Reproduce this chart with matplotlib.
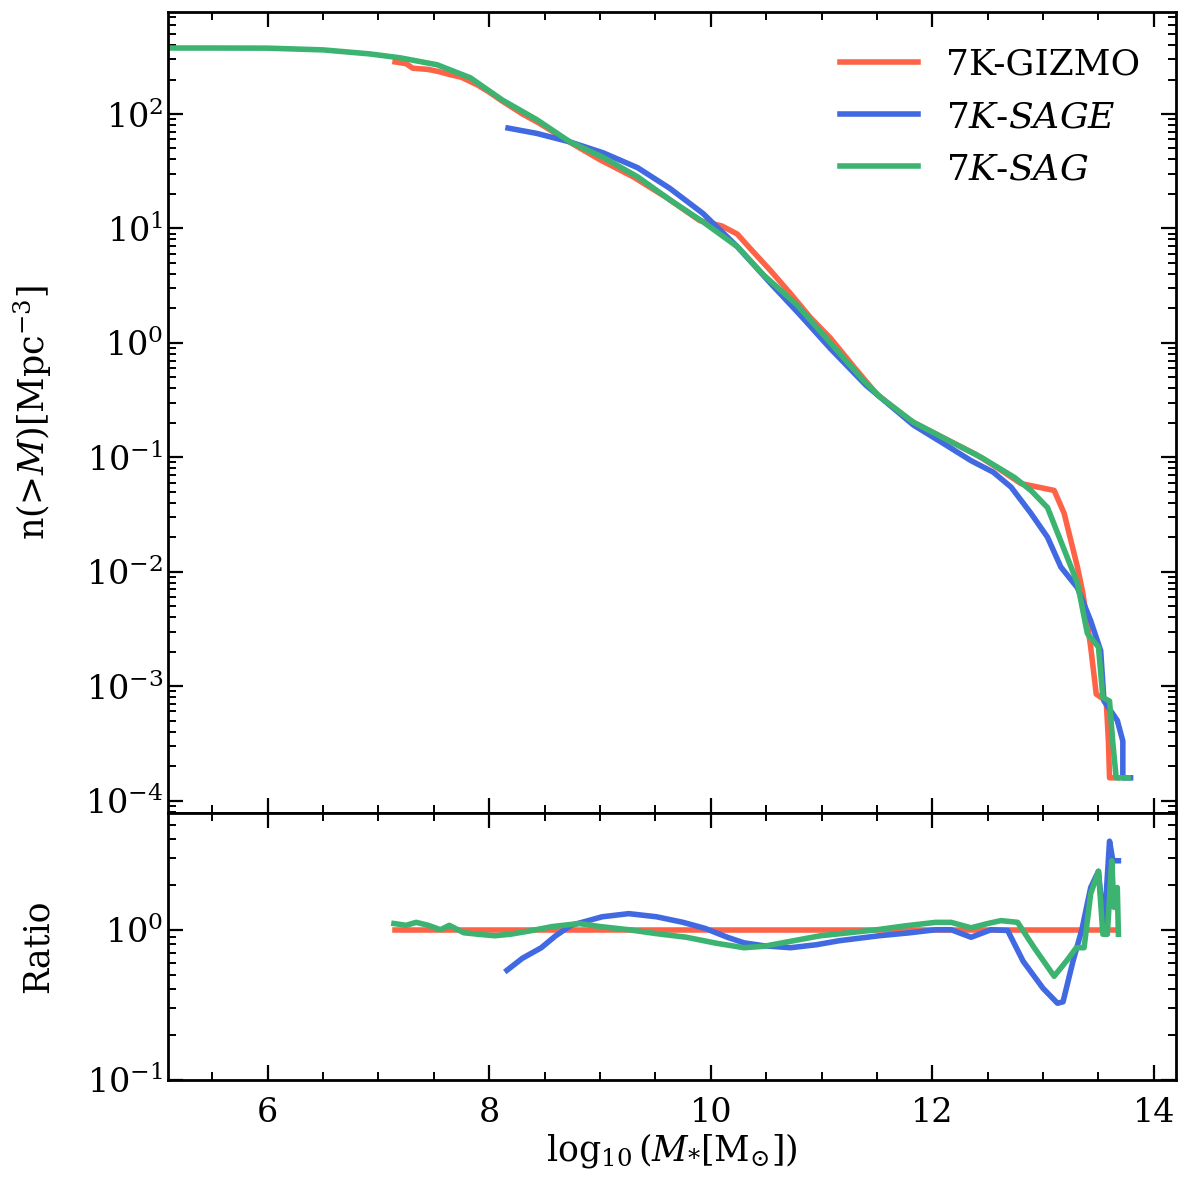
import numpy as np
import matplotlib
matplotlib.use("Agg")
import matplotlib.pyplot as plt
from matplotlib.ticker import MultipleLocator, LogLocator, NullFormatter

plt.rcParams['font.family'] = ['DejaVu Serif']
plt.rcParams['mathtext.fontset'] = 'dejavuserif'

# cumulative number density
x_gizmo = [7.15, 7.25, 7.31, 7.45, 7.55, 7.62, 7.75, 7.9, 8.0, 8.12, 8.3, 8.45, 8.6, 8.75,
           9.0, 9.3, 9.6, 9.9, 10.1, 10.24, 10.36, 10.54, 10.72, 10.9, 11.08, 11.3, 11.5,
           11.8, 12.1, 12.4, 12.6, 12.8, 13.1, 13.19, 13.31, 13.36, 13.43, 13.48, 13.57,
           13.59, 13.6, 13.67]
n_gizmo = [285, 275, 251, 245, 234, 224, 209, 178, 155, 129, 100, 83.2, 67.6, 55.0,
           39.8, 28.2, 18.6, 11.7, 10.5, 8.91, 6.61, 4.27, 2.69, 1.66, 1.10, 0.603, 0.355,
           0.209, 0.148, 0.105, 0.0794, 0.0589, 0.0513, 0.0324, 0.0110, 0.00646, 0.00219,
           0.000851, 0.000741, 0.000331, 0.000158, 0.000158]

x_sage = [8.17, 8.43, 8.73, 9.03, 9.34, 9.63, 9.93, 10.24, 10.54, 10.8, 11.08, 11.4, 11.83,
          12.1, 12.35, 12.55, 12.71, 12.89, 13.04, 13.16, 13.31, 13.43, 13.52, 13.55, 13.67,
          13.72, 13.72, 13.79]
n_sage = [75.3, 67.6, 56.9, 45.7, 33.9, 22.4, 13.5, 6.92, 3.31, 1.78, 0.891, 0.427, 0.191,
          0.132, 0.0933, 0.0741, 0.0550, 0.0324, 0.0200, 0.0110, 0.00724, 0.00372, 0.00204,
          0.000741, 0.000501, 0.000331, 0.000158, 0.000158]

x_sag = [5.1, 5.5, 6.0, 6.5, 6.92, 7.2, 7.53, 7.83, 8.12, 8.43, 8.73, 9.03, 9.34, 9.63, 9.93,
         10.24, 10.48, 10.78, 11.08, 11.38, 11.53, 11.83, 12.14, 12.44, 12.74, 12.89, 13.04,
         13.22, 13.31, 13.4, 13.5, 13.54, 13.6, 13.63, 13.66, 13.77]
n_sag = [377, 377, 376, 363, 335, 309, 269, 207, 132, 89.1, 56.9, 41.7, 28.2, 17.8, 11.4,
         6.92, 3.89, 2.14, 1.0, 0.468, 0.335, 0.202, 0.141, 0.100, 0.0668, 0.0513, 0.0363,
         0.0132, 0.00794, 0.00288, 0.00219, 0.000794, 0.000741, 0.000316, 0.000158, 0.000158]

# ratios to 7K-GIZMO
xr_gizmo = [7.15, 13.67]
r_gizmo = [1.0, 1.0]

xr_sage = [8.16, 8.3, 8.47, 8.6, 8.74, 9.02, 9.26, 9.51, 9.75, 9.95, 10.15, 10.3, 10.48, 10.72,
           10.95, 11.16, 11.52, 11.8, 12.03, 12.17, 12.35, 12.53, 12.68, 12.82, 13.0, 13.13,
           13.18, 13.27, 13.35, 13.43, 13.5, 13.55, 13.6, 13.63, 13.68]
r_sage = [0.537, 0.646, 0.759, 0.912, 1.07, 1.22, 1.28, 1.22, 1.12, 1.02, 0.891, 0.818, 0.782,
          0.759, 0.794, 0.845, 0.912, 0.955, 1.0, 1.0, 0.891, 1.0, 0.989, 0.617, 0.407, 0.324,
          0.331, 0.617, 1.0, 1.91, 2.45, 1.0, 3.89, 2.88, 2.88]

xr_sag = [7.14, 7.25, 7.34, 7.45, 7.56, 7.64, 7.77, 7.9, 8.05, 8.19, 8.35, 8.57, 8.81, 9.0,
          9.26, 9.5, 9.78, 10.05, 10.3, 10.48, 10.7, 10.99, 11.25, 11.5, 11.75, 12.03, 12.17,
          12.35, 12.5, 12.62, 12.77, 12.92, 13.1, 13.22, 13.3, 13.37, 13.43, 13.5, 13.54,
          13.58, 13.62, 13.64, 13.67, 13.68]
r_sag = [1.10, 1.07, 1.12, 1.07, 1.0, 1.07, 0.955, 0.933, 0.912, 0.933, 0.977, 1.05, 1.10,
         1.05, 1.0, 0.944, 0.891, 0.813, 0.759, 0.776, 0.832, 0.912, 0.955, 1.0, 1.06, 1.12,
         1.12, 1.03, 1.10, 1.15, 1.12, 0.759, 0.49, 0.631, 0.759, 0.759, 1.74, 2.45, 0.933,
         0.933, 2.88, 1.41, 1.91, 0.933]

labels = ['7K-GIZMO', r'7$K$-$SAGE$', r'7$K$-$SAG$']
colors = ['tomato', 'royalblue', 'mediumseagreen']
lw = 4.0

fig = plt.figure(figsize=(12, 11.88), dpi=100)
gs = fig.add_gridspec(2, 1, height_ratios=[3, 1], hspace=0,
                      left=0.14, right=0.98, top=0.99, bottom=0.091)
ax = fig.add_subplot(gs[0])
axr = fig.add_subplot(gs[1], sharex=ax)

ax.plot(x_gizmo, n_gizmo, color=colors[0], lw=lw, label=labels[0])
ax.plot(x_sage, n_sage, color=colors[1], lw=lw, label=labels[1])
ax.plot(x_sag, n_sag, color=colors[2], lw=lw, label=labels[2])

axr.plot(xr_gizmo, r_gizmo, color=colors[0], lw=lw)
axr.plot(xr_sage, r_sage, color=colors[1], lw=lw)
axr.plot(xr_sag, r_sag, color=colors[2], lw=lw)

ax.set_yscale('log')
axr.set_yscale('log')
ax.set_xlim(5.1, 14.2)
ax.set_ylim(7.8e-5, 7.8e2)
axr.set_ylim(0.1, 6.0)

ax.set_ylabel(r'n(>$M$)[Mpc$^{-3}$]', fontsize=25, labelpad=22)
axr.set_ylabel('Ratio', fontsize=25, labelpad=22)
axr.set_xlabel(r'$\log_{10}(M_{*}[\mathrm{M_{\odot}}])$', fontsize=25, labelpad=2)

for a in (ax, axr):
    a.xaxis.set_major_locator(MultipleLocator(2))
    a.xaxis.set_minor_locator(MultipleLocator(0.5))
    a.yaxis.set_major_locator(LogLocator(base=10, numticks=20))
    a.yaxis.set_minor_locator(LogLocator(base=10, subs=np.arange(2, 10), numticks=20))
    a.yaxis.set_minor_formatter(NullFormatter())
    a.tick_params(which='both', direction='in', top=True, right=True, labelsize=24)
    a.tick_params(which='major', length=11, width=1.6)
    a.tick_params(which='minor', length=6, width=1.4)
    a.tick_params(axis='x', which='major', pad=12)
    for s in a.spines.values():
        s.set_linewidth(2)
plt.setp(ax.get_xticklabels(), visible=False)

ax.legend(loc='upper right', frameon=False, fontsize=26, handlelength=2.15,
          handletextpad=0.78, labelspacing=0.5, borderaxespad=0.6)

fig.align_ylabels([ax, axr])
fig.savefig('out.png', dpi=100)
